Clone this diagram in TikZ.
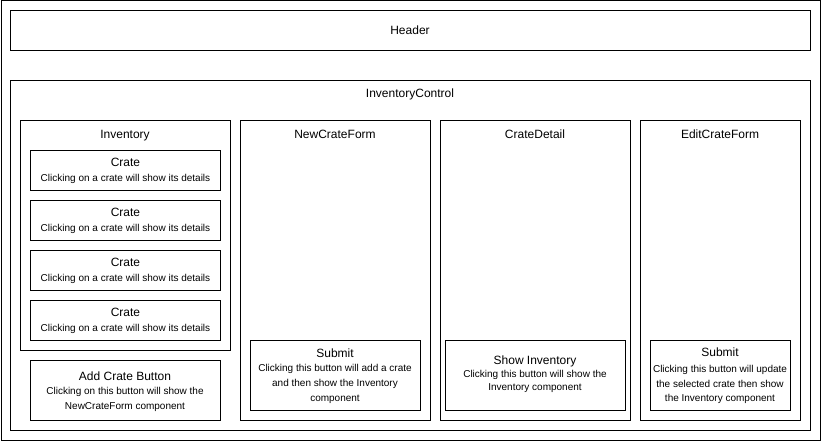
\documentclass[tikz,border=0pt]{standalone}
\usepackage{fontspec}
\setmainfont{Liberation Sans}
\begin{document}
\begin{tikzpicture}[x=1pt,y=-1pt,
  box/.style={draw,line width=1pt,rectangle,inner sep=0pt,anchor=north west},
  ttl/.style={font=\fontsize{12}{15}\selectfont,inner sep=0pt,anchor=base},
  desc/.style={font=\fontsize{10}{15}\selectfont,inner sep=0pt,anchor=base}]
\useasboundingbox (0,0) rectangle (821,441);
% outer frame
\node[box,minimum width=819pt,minimum height=439pt] (frame) at (0.5,0.5) {};
% header
\node[box,minimum width=800pt,minimum height=40pt] (header) at (10,10) {};
\node[ttl] (headerT) at (410,34.3) {Header};
% inventory control
\node[box,minimum width=800pt,minimum height=350pt] (ic) at (10,80) {};
\node[ttl] (icT) at (410,97.7) {InventoryControl};
% inventory
\node[box,minimum width=210pt,minimum height=230pt] (inv) at (20,120) {};
\node[ttl] (invT) at (125,138.5) {Inventory};
\foreach \i/\y in {1/150,2/200,3/250,4/300}{
  \node[box,minimum width=190pt,minimum height=40pt] (crate\i) at (30,\y) {};
  \node[ttl] (crate\i T) at ([yshift=-16.7pt]crate\i.north) {Crate};
  \node[desc] (crate\i D) at ([yshift=-31.5pt]crate\i.north) {Clicking on a crate will show its details};
}
% add crate button
\node[box,minimum width=190pt,minimum height=60pt] (addbtn) at (30,360) {};
\node[ttl] (addbtnT) at (125,380) {Add Crate Button};
\node[desc] (addbtnD1) at (125,394) {Clicking on this button will show the};
\node[desc] (addbtnD2) at (125,409) {NewCrateForm component};
% new crate form
\node[box,minimum width=190pt,minimum height=300pt] (ncf) at (240,120) {};
\node[ttl] (ncfT) at (335,138.5) {NewCrateForm};
\node[box,minimum width=170pt,minimum height=70pt] (ncfsub) at (250,340) {};
\node[ttl] (ncfsubT) at (335,357.3) {Submit};
\node[desc] (ncfsubD1) at (335,371.8) {Clicking this button will add a crate};
\node[desc] (ncfsubD2) at (335,386.6) {and then show the Inventory};
\node[desc] (ncfsubD3) at (335,401.4) {component};
% crate detail
\node[box,minimum width=190pt,minimum height=300pt] (cd) at (440,120) {};
\node[ttl] (cdT) at (535,138.5) {CrateDetail};
\node[box,minimum width=180pt,minimum height=70pt] (showinv) at (445,340) {};
\node[ttl] (showinvT) at (535,364.3) {Show Inventory};
\node[desc] (showinvD1) at (535,377.4) {Clicking this button will show the};
\node[desc] (showinvD2) at (535,390.7) {Inventory component};
% edit crate form
\node[box,minimum width=160pt,minimum height=300pt] (ecf) at (640,120) {};
\node[ttl] (ecfT) at (720,138.5) {EditCrateForm};
\node[box,minimum width=140pt,minimum height=70pt] (ecfsub) at (650,340) {};
\node[ttl] (ecfsubT) at (720,356.7) {Submit};
\node[desc] (ecfsubD1) at (720,372.6) {Clicking this button will update};
\node[desc] (ecfsubD2) at (720,387.2) {the selected crate then show};
\node[desc] (ecfsubD3) at (720,401.7) {the Inventory component};
\end{tikzpicture}
\end{document}
